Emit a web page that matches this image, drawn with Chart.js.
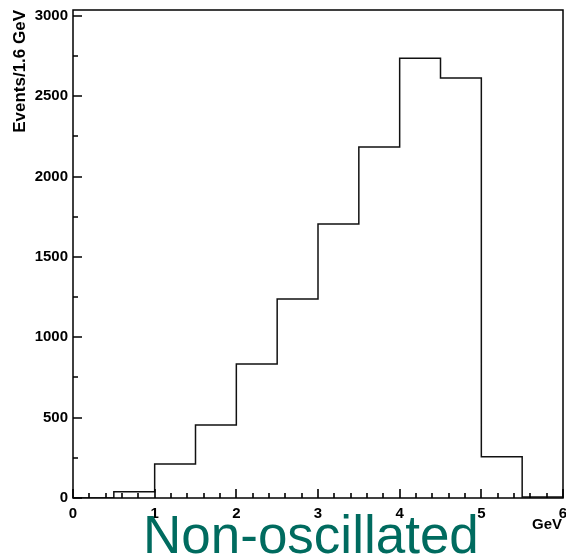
<!DOCTYPE html>
<html>
<head>
<meta charset="utf-8">
<script src="https://cdn.jsdelivr.net/npm/chart.js@4/dist/chart.umd.min.js"></script>
<style>
  body { margin: 0; background: #fff; }
  #wrap { width: 566px; height: 558px; position: relative; }
</style>
</head>
<body>
<div id="wrap"><canvas id="histChart"></canvas></div>
<script>
// histogram bins (GeV) and event counts per bin
const binEdges = [0, 0.5, 1, 1.5, 2, 2.5, 3, 3.5, 4, 4.5, 5, 5.5, 6];
const counts = [0, 39, 212, 454, 834, 1238, 1705, 2184, 2737, 2614, 257, 6];
const xTicks = [0, 1, 2, 3, 4, 5, 6];
const yTicks = [0, 500, 1000, 1500, 2000, 2500, 3000];

// point i = left edge of bin i, last point closes the final bin at 6
const stepPoints = binEdges.map((x, i) => ({ x: x, y: counts[Math.min(i, counts.length - 1)] }));

const labelFont = { family: 'Liberation Sans, Arial, sans-serif', size: 15, weight: 'bold' };

// frame + inward ticks, like the ROOT style
const framePlugin = {
    id: 'frame',
    afterDraw(chart) {
        const { ctx, chartArea: a, scales } = chart;
        const xs = scales.x, ys = scales.y;
        ctx.save();
        ctx.strokeStyle = '#000';
        ctx.lineWidth = 1.5;
        ctx.strokeRect(a.left, a.top, a.right - a.left, a.bottom - a.top);

        ctx.lineWidth = 1.6;
        ctx.beginPath();
        for (let v = 0; v <= 6.001; v += 0.2) {
            const px = Math.round(xs.getPixelForValue(v));
            const major = Math.abs(v - Math.round(v)) < 0.01;
            const len = major ? 9 : 5;
            ctx.moveTo(px, a.bottom);
            ctx.lineTo(px, a.bottom - len);
        }
        for (let v = 0; v <= 3000; v += 250) {
            const py = Math.round(ys.getPixelForValue(v));
            const len = v % 500 === 0 ? 9 : 5;
            ctx.moveTo(a.left, py);
            ctx.lineTo(a.left + len, py);
        }
        ctx.stroke();

        // axis titles
        ctx.fillStyle = '#000';
        ctx.font = 'bold 15px Liberation Sans, Arial, sans-serif';
        ctx.textAlign = 'right';
        ctx.textBaseline = 'middle';
        ctx.fillText('GeV', 562, 525);

        ctx.save();
        ctx.translate(20, 10);
        ctx.rotate(-Math.PI / 2);
        ctx.font = 'bold 17px Liberation Sans, Arial, sans-serif';
        ctx.textAlign = 'right';
        ctx.textBaseline = 'middle';
        ctx.fillText('Events/1.6 GeV', 0, 0);
        ctx.restore();

        ctx.fillStyle = '#006b5f';
        ctx.font = '53px Liberation Sans, Arial, sans-serif';
        ctx.textAlign = 'left';
        ctx.textBaseline = 'alphabetic';
        ctx.fillText('Non-oscillated', 143, 553);
        ctx.restore();
    }
};

new Chart(document.getElementById('histChart'), {
    type: 'line',
    data: {
        datasets: [{
            data: stepPoints,
            stepped: 'before',
            borderColor: '#111',
            borderWidth: 1.5,
            pointRadius: 0,
            fill: false
        }]
    },
    options: {
        responsive: true,
        maintainAspectRatio: false,
        animation: false,
        layout: { padding: { top: 10, right: 3, left: 0, bottom: 0 } },
        plugins: { legend: { display: false }, tooltip: { enabled: false } },
        scales: {
            x: {
                type: 'linear',
                min: 0,
                max: 6,
                afterFit: (scale) => {
                    scale.height = 60;
                    scale.paddingLeft = 0;
                    scale.paddingRight = 0;
                },
                afterBuildTicks: (scale) => { scale.ticks = xTicks.map(v => ({ value: v })); },
                grid: { display: false, drawTicks: false },
                border: { display: false },
                ticks: {
                    color: '#000',
                    font: labelFont,
                    padding: 7,
                    maxRotation: 0,
                    autoSkip: false,
                    callback: (v) => String(v)
                }
            },
            y: {
                min: 0,
                max: 3037,
                afterFit: (scale) => {
                    scale.width = 73;
                    scale.paddingTop = 0;
                    scale.paddingBottom = 0;
                },
                afterBuildTicks: (scale) => { scale.ticks = yTicks.map(v => ({ value: v })); },
                grid: { display: false, drawTicks: false },
                border: { display: false },
                ticks: {
                    color: '#000',
                    font: labelFont,
                    padding: 5,
                    callback: (v) => String(v)
                }
            }
        }
    },
    plugins: [framePlugin]
});
</script>
</body>
</html>
